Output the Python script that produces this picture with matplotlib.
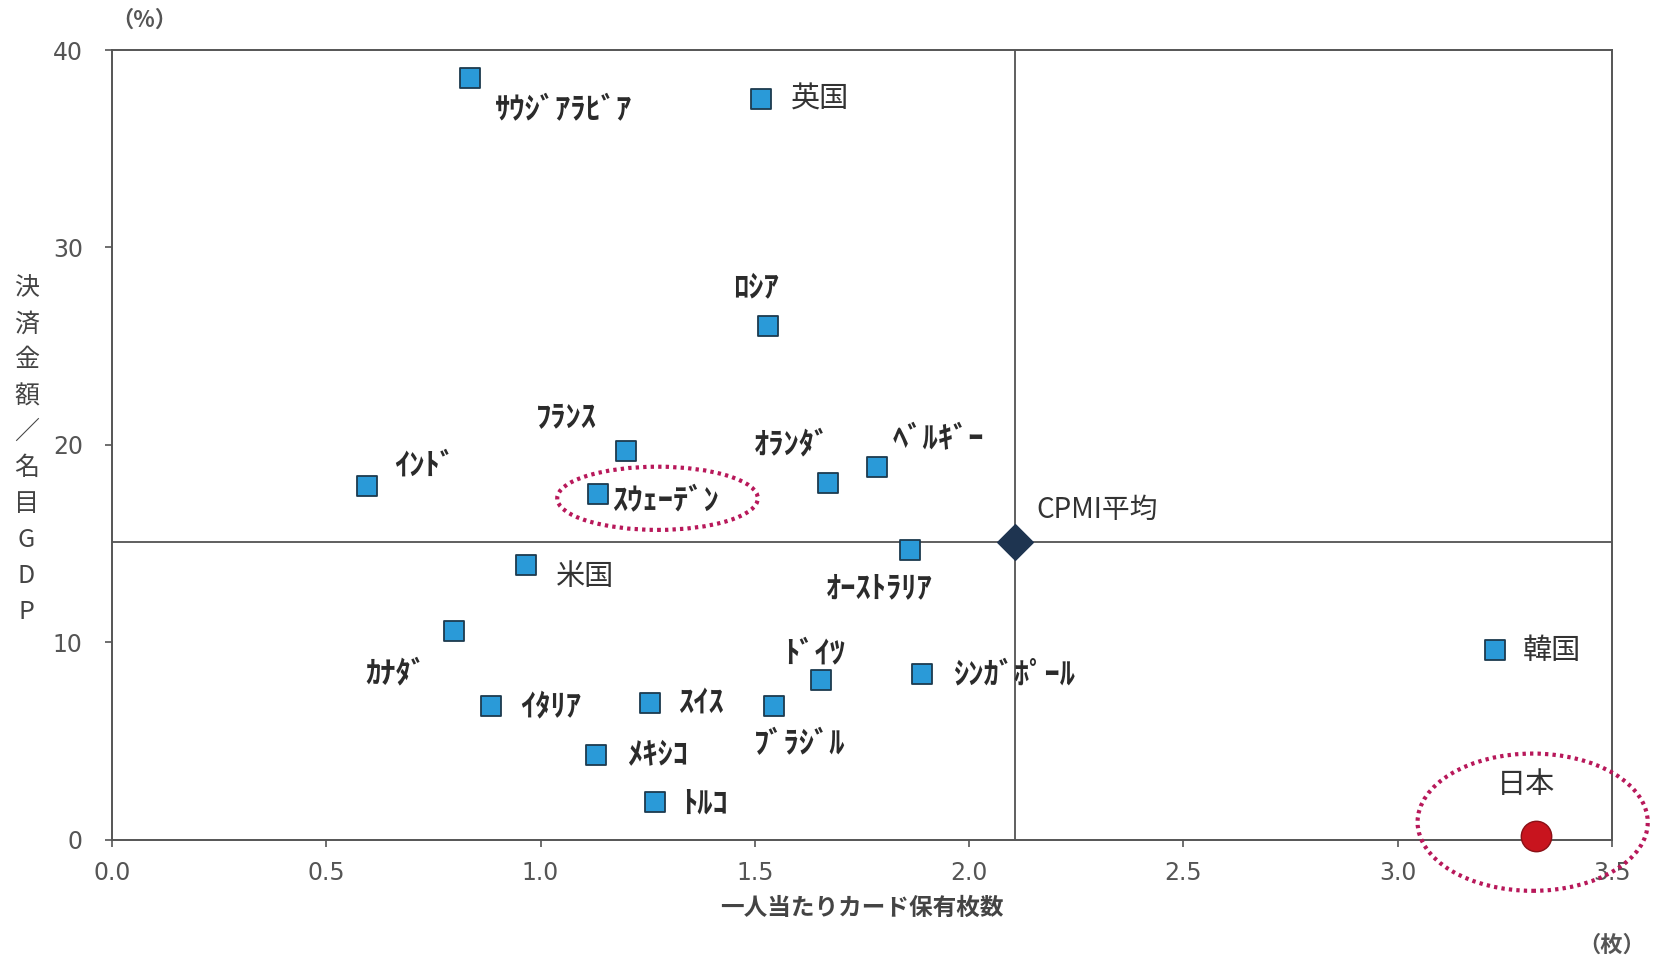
import matplotlib
matplotlib.use("Agg")
import matplotlib.pyplot as plt
from matplotlib.patches import Ellipse

plt.rcParams['font.family'] = ['Noto Sans CJK JP', 'DejaVu Sans']

# Cards held per person (x) vs. card payments / nominal GDP in % (y)
countries = ['ｻｳｼﾞｱﾗﾋﾞｱ', '英国', 'ﾛｼｱ', 'ﾌﾗﾝｽ', 'ｲﾝﾄﾞ', 'ｽｳｪｰﾃﾞﾝ', 'ｵﾗﾝﾀﾞ',
             'ﾍﾞﾙｷﾞｰ', '米国', 'ｵｰｽﾄﾗﾘｱ', 'ｶﾅﾀﾞ', 'ﾄﾞｲﾂ', 'ｼﾝｶﾞﾎﾟｰﾙ', 'ｲﾀﾘｱ',
             'ｽｲｽ', 'ﾌﾞﾗｼﾞﾙ', 'ﾒｷｼｺ', 'ﾄﾙｺ', '韓国']
cards = [0.835, 1.515, 1.53, 1.20, 0.596, 1.135, 1.67, 1.786, 0.965, 1.862,
         0.798, 1.655, 1.89, 0.884, 1.256, 1.544, 1.13, 1.266, 3.227]
ratio = [38.6, 37.5, 26.0, 19.7, 17.9, 17.5, 18.1, 18.9, 13.9, 14.7,
         10.6, 8.1, 8.4, 6.8, 6.95, 6.8, 4.3, 1.9, 9.6]

japan_cards, japan_ratio = 3.323, 0.2
cpmi_cards, cpmi_ratio = 2.108, 15.1

# label offsets in pixels (dx, dy, ha)
offsets = {
    'ｻｳｼﾞｱﾗﾋﾞｱ': (94, -32, 'center'), '英国': (30, 0, 'left'),
    'ﾛｼｱ': (-12, 39, 'center'), 'ﾌﾗﾝｽ': (-60, 33, 'center'),
    'ｲﾝﾄﾞ': (57, 21, 'center'), 'ｽｳｪｰﾃﾞﾝ': (14, -6, 'left'),
    'ｵﾗﾝﾀﾞ': (-36, 38, 'center'), 'ﾍﾞﾙｷﾞｰ': (61, 27, 'center'),
    '米国': (30, -12, 'left'), 'ｵｰｽﾄﾗﾘｱ': (-31, -39, 'center'),
    'ｶﾅﾀﾞ': (-58, -43, 'center'), 'ﾄﾞｲﾂ': (-7, 27, 'center'),
    'ｼﾝｶﾞﾎﾟｰﾙ': (92, 0, 'center'), 'ｲﾀﾘｱ': (60, -1, 'center'),
    'ｽｲｽ': (51, 0, 'center'), 'ﾌﾞﾗｼﾞﾙ': (26, -38, 'center'),
    'ﾒｷｼｺ': (61, 0, 'center'), 'ﾄﾙｺ': (50, -1, 'center'),
    '韓国': (28, -1, 'left'),
}
kanji = {'英国', '米国', '韓国'}

fig = plt.figure(figsize=(16.56, 9.58), dpi=100)
ax = fig.add_axes([0.0676, 0.1232, 0.9058, 0.8246])

ax.set_xlim(0, 3.5)
ax.set_ylim(0, 40)

# CPMI average cross-hair
ax.axvline(cpmi_cards, color='#444444', lw=1.2, zorder=1)
ax.axhline(cpmi_ratio, color='#444444', lw=1.2, zorder=1)

ax.scatter(cards, ratio, marker='s', s=190, color='#2a9ad8',
           edgecolors='#1d3a4e', linewidths=1.3, zorder=3)
ax.scatter([cpmi_cards], [cpmi_ratio], marker='D', s=330, color='#1e3450',
           zorder=4)
ax.scatter([japan_cards], [japan_ratio], marker='o', s=480, color='#c8141e',
           edgecolors='#8a1016', linewidths=1, zorder=4, clip_on=False)

for name, x, y in zip(countries, cards, ratio):
    dx, dy, ha = offsets[name]
    if name in kanji:
        ax.annotate(name, (x, y), xytext=(dx, dy), textcoords='offset pixels',
                    ha=ha, va='center', fontsize=21, color='#333333')
    else:
        ax.annotate(name, (x, y), xytext=(dx, dy), textcoords='offset pixels',
                    ha=ha, va='center', fontsize=22, fontweight='bold',
                    color='#2b2b2b')

ax.annotate('日本', (japan_cards, japan_ratio), xytext=(-10, 51),
            textcoords='offset pixels', ha='center', va='center',
            fontsize=21, color='#333333')
ax.annotate('CPMI平均', (cpmi_cards, cpmi_ratio), xytext=(82, 32),
            textcoords='offset pixels', ha='center', va='center',
            fontsize=20, color='#333333')

# dotted highlight rings
ring_kw = dict(fill=False, edgecolor='#b8185a', lw=3, linestyle=(0, (0.8, 1.0)),
               zorder=5, clip_on=False)
ax.add_patch(Ellipse((1.273, 17.3), 0.468, 3.2, **ring_kw))
ax.add_patch(Ellipse((3.315, 0.9), 0.537, 6.95, **ring_kw))

ax.set_xticks([0.0, 0.5, 1.0, 1.5, 2.0, 2.5, 3.0, 3.5])
ax.set_xticklabels(['0.0', '0.5', '1.0', '1.5', '2.0', '2.5', '3.0', '3.5'])
ax.set_yticks([0, 10, 20, 30, 40])
ax.tick_params(axis='both', direction='out', length=5, width=1.2,
               color='#555555', labelcolor='#555555', labelsize=17)
ax.tick_params(axis='x', pad=10)
ax.tick_params(axis='y', pad=16)
for lab in ax.get_xticklabels() + ax.get_yticklabels():
    lab.set_family(['Liberation Sans Narrow', 'DejaVu Sans'])

for sp in ax.spines.values():
    sp.set_color('#555555')
    sp.set_linewidth(1.4)

# axis titles
fig.text(0.087, 0.979, '（%）', ha='center', va='center', fontsize=16,
         fontweight='bold', color='#555555')
fig.text(0.016, 0.53, '\n'.join('決済金額／名目GDP'), ha='center', va='center',
         fontsize=18, color='#444444', linespacing=1.5)
ax.set_xlabel('一人当たりカード保有枚数', fontsize=17, fontweight='bold',
              color='#444444', labelpad=8)
fig.text(0.973, 0.013, '（枚）', ha='center', va='center', fontsize=16,
         fontweight='bold', color='#555555')

fig.savefig('out.png', dpi=100, facecolor='white')
